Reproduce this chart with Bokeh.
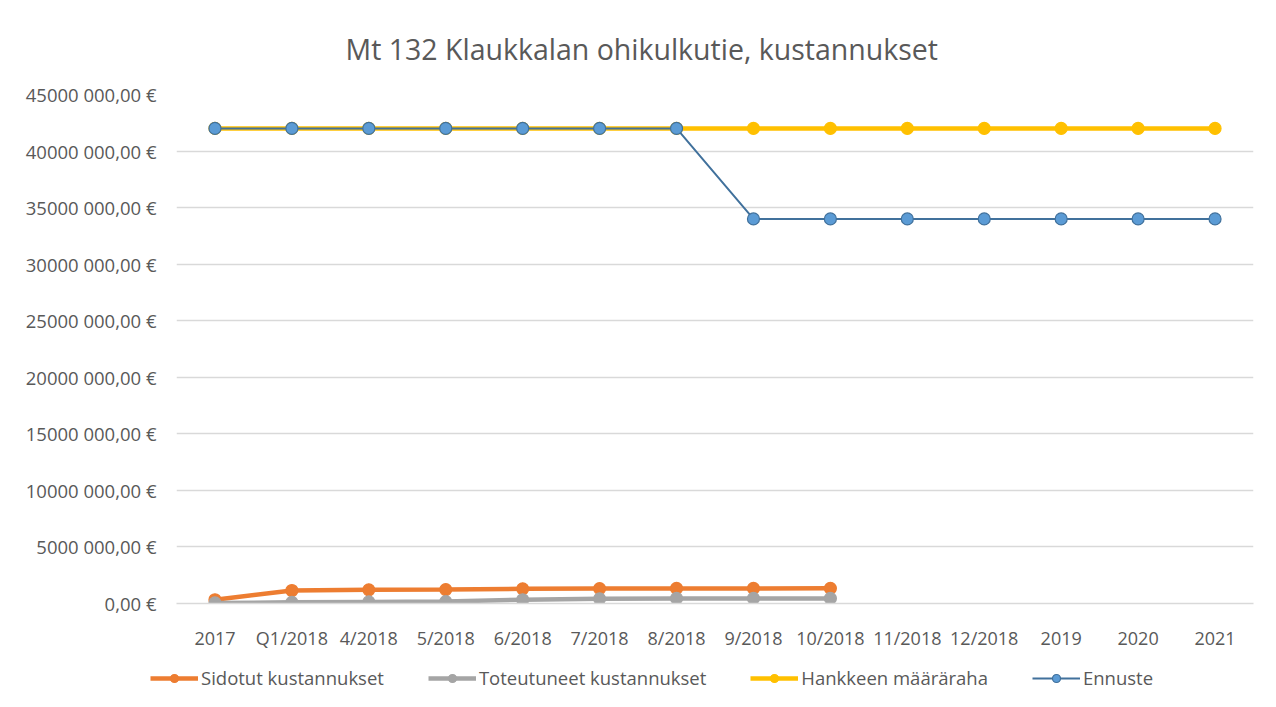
from bokeh.plotting import figure
from bokeh.models import ColumnDataSource, Legend, LegendItem, CustomJSTickFormatter, FixedTicker, Range1d, Title
from bokeh.embed import file_html
from bokeh.resources import INLINE

categories = ["2017", "Q1/2018", "4/2018", "5/2018", "6/2018", "7/2018", "8/2018",
              "9/2018", "10/2018", "11/2018", "12/2018", "2019", "2020", "2021"]
sidotut = [330000, 1150000, 1210000, 1230000, 1300000, 1320000, 1330000, 1330000, 1340000]
toteutuneet = [50000, 100000, 140000, 170000, 330000, 410000, 450000, 450000, 450000]
maararaha = [42000000] * 14
ennuste = [42000000] * 7 + [34000000] * 7
yticks = [0, 5000000, 10000000, 15000000, 20000000, 25000000, 30000000, 35000000, 40000000, 45000000]

FONT = "Open Sans"
TXT = "#595959"

p = figure(frame_width=1077, frame_height=509, x_range=categories, y_range=Range1d(0, 45000000),
           output_backend="svg", toolbar_location=None)
p.title = Title(text="Mt 132 Klaukkalan ohikulkutie, kustannukset", align="left",
                text_font=FONT, text_font_size="28.5px", text_font_style="normal",
                text_color=TXT, standoff=54, offset=169)
p.min_border_left = 176
p.min_border_right = 15
p.min_border_top = 94
p.min_border_bottom = 50
p.outline_line_color = None
p.background_fill_color = "white"
p.border_fill_color = "white"

p.xgrid.grid_line_color = None
p.ygrid.grid_line_color = "#d9d9d9"
p.ygrid.grid_line_width = 1.5

p.yaxis.ticker = FixedTicker(ticks=yticks)
p.yaxis.formatter = CustomJSTickFormatter(code="""
if (tick == 0) { return "0,00 \u20ac"; }
return Math.round(tick/1000) + " 000,00 \u20ac";
""")
p.yaxis.axis_line_color = None
p.yaxis.major_tick_line_color = None
p.yaxis.minor_tick_line_color = None
p.yaxis.major_label_text_font = FONT
p.yaxis.major_label_text_font_size = "18.5px"
p.yaxis.major_label_text_color = TXT
p.yaxis.major_label_standoff = 14

p.xaxis.axis_line_color = "#d9d9d9"
p.xaxis.axis_line_width = 1.5
p.xaxis.major_tick_line_color = None
p.xaxis.minor_tick_line_color = None
p.xaxis.major_label_text_font = FONT
p.xaxis.major_label_text_font_size = "18px"
p.xaxis.major_label_text_color = TXT
p.xaxis.major_label_standoff = 16

s1 = ColumnDataSource(dict(x=categories[:len(sidotut)], y=sidotut))
s2 = ColumnDataSource(dict(x=categories[:len(toteutuneet)], y=toteutuneet))
s3 = ColumnDataSource(dict(x=categories, y=maararaha))
s4 = ColumnDataSource(dict(x=categories, y=ennuste))

specs = [
    (s1, "Sidotut kustannukset", "#ed7d31", "#ed7d31", "#ed7d31", 4.5),
    (s2, "Toteutuneet kustannukset", "#a5a5a5", "#a5a5a5", "#a5a5a5", 4.5),
    (s3, "Hankkeen määräraha", "#ffc000", "#ffc000", "#ffc000", 4.5),
    (s4, "Ennuste", "#41719c", "#5b9bd5", "#41719c", 2),
]
for src, name, lc, fc, oc, lw in specs:
    p.line("x", "y", source=src, line_color=lc, line_width=lw)
    p.scatter("x", "y", source=src, size=12, fill_color=fc, line_color=oc, line_width=1.2)

# legend strip: same series, drawn outside its visible range, only the legend shows
lg = figure(width=1268, height=50, x_range=categories, y_range=Range1d(-10, -5),
            output_backend="svg", toolbar_location=None,
            min_border_left=0, min_border_right=0, min_border_top=0, min_border_bottom=0)
lg.axis.visible = False
lg.grid.visible = False
lg.outline_line_color = None
lg.background_fill_color = "white"
lg.border_fill_color = "white"
items = []
for src, name, lc, fc, oc, lw in specs:
    l = lg.line("x", "y", source=src, line_color=lc, line_width=lw)
    c = lg.scatter("x", "y", source=src, size=12, fill_color=fc, line_color=oc, line_width=1.2)
    items.append(LegendItem(label=name, renderers=[l, c]))

legend = Legend(items=items, orientation="horizontal", location=(150, 13),
                label_text_font=FONT, label_text_font_size="18.5px", label_text_color=TXT,
                glyph_width=48, spacing=44, label_standoff=3, border_line_color=None,
                background_fill_alpha=0, margin=0, padding=0)
lg.add_layout(legend, "center")

open("out.html", "w").write(file_html([p, lg], INLINE))
